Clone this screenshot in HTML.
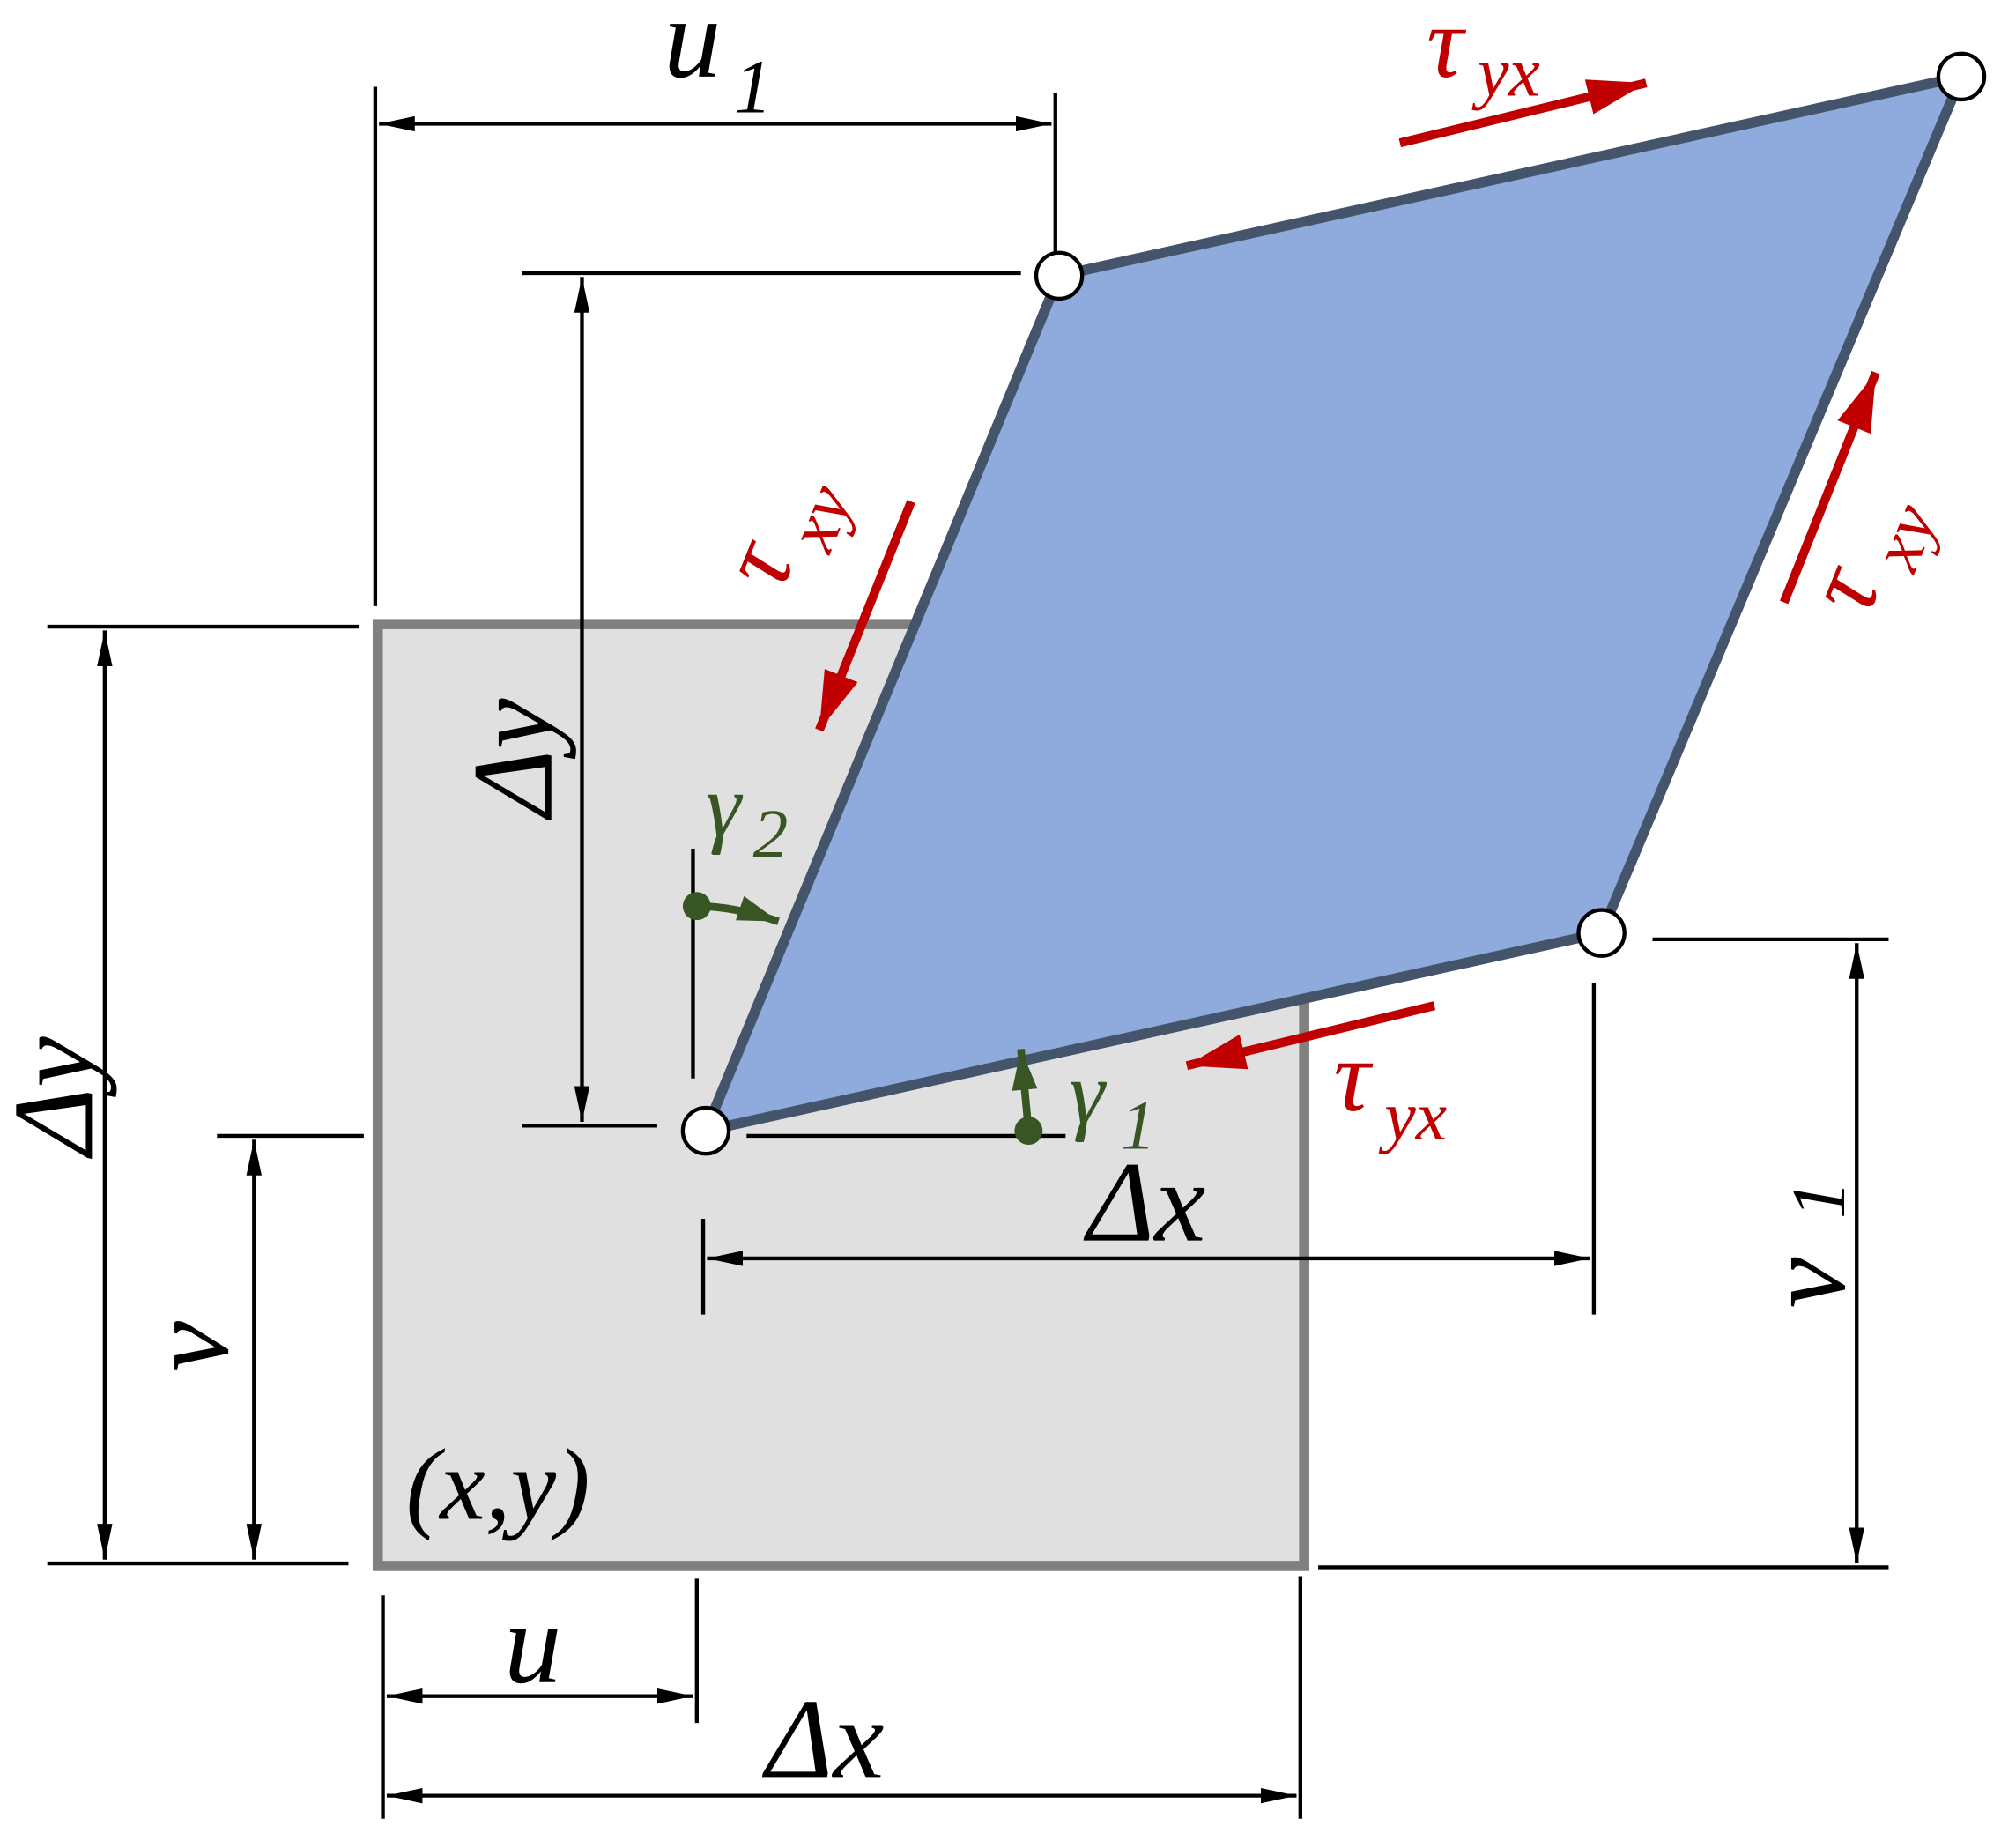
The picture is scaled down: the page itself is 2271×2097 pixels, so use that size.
<!DOCTYPE html>
<html><head><meta charset="utf-8"><style>html,body{margin:0;padding:0;background:#fff}svg{display:block}</style></head>
<body>
<svg width="2271" height="2097" viewBox="0 0 1568 1448" xmlns="http://www.w3.org/2000/svg" font-family="Liberation Serif, serif" font-style="italic">
<defs>
<marker id="a" viewBox="0 0 10 10" preserveAspectRatio="none" refX="10" refY="5" markerWidth="28" markerHeight="12" orient="auto-start-reverse" markerUnits="userSpaceOnUse"><path d="M0,0L10,5L0,10z" fill="#000"/></marker>
<marker id="r" viewBox="0 0 10 10" preserveAspectRatio="none" refX="10" refY="5" markerWidth="46" markerHeight="28" orient="auto" markerUnits="userSpaceOnUse"><path d="M0,0L10,5L0,10z" fill="#c00000"/></marker>
<marker id="g" viewBox="0 0 10 10" preserveAspectRatio="none" refX="10" refY="5" markerWidth="32" markerHeight="20" orient="auto" markerUnits="userSpaceOnUse"><path d="M0,0L10,5L0,10z" fill="#375623"/></marker>
</defs>
<rect x="296" y="489" width="726" height="738" fill="#e0e0e0" stroke="#808080" stroke-width="8"/>
<polygon points="553,886 830,216 1537,60 1255,731" fill="#8faadc" stroke="#44546a" stroke-width="8" stroke-linejoin="round"/>
<g stroke="#000" stroke-width="3" fill="none">
<line x1="294" y1="68" x2="294" y2="475"/><line x1="827" y1="73" x2="827" y2="200"/>
<line x1="297" y1="97" x2="824" y2="97" marker-start="url(#a)" marker-end="url(#a)"/>
<line x1="409" y1="214" x2="800" y2="214"/><line x1="409" y1="882" x2="515" y2="882"/>
<line x1="456" y1="217" x2="456" y2="879" marker-start="url(#a)" marker-end="url(#a)"/>
<line x1="37" y1="491" x2="281" y2="491"/><line x1="37" y1="1225" x2="273" y2="1225"/>
<line x1="82" y1="494" x2="82" y2="1222" marker-start="url(#a)" marker-end="url(#a)"/>
<line x1="170" y1="890" x2="285" y2="890"/>
<line x1="199" y1="893" x2="199" y2="1222" marker-start="url(#a)" marker-end="url(#a)"/>
<line x1="300" y1="1250" x2="300" y2="1425"/><line x1="546" y1="1237" x2="546" y2="1350"/>
<line x1="303" y1="1329" x2="543" y2="1329" marker-start="url(#a)" marker-end="url(#a)"/>
<line x1="1019" y1="1235" x2="1019" y2="1425"/>
<line x1="303" y1="1407" x2="1016" y2="1407" marker-start="url(#a)" marker-end="url(#a)"/>
<line x1="551" y1="955" x2="551" y2="1030"/><line x1="1249" y1="770" x2="1249" y2="1030"/>
<line x1="554" y1="986" x2="1246" y2="986" marker-start="url(#a)" marker-end="url(#a)"/>
<line x1="1295" y1="736" x2="1480" y2="736"/><line x1="1033" y1="1228" x2="1480" y2="1228"/>
<line x1="1455" y1="739" x2="1455" y2="1225" marker-start="url(#a)" marker-end="url(#a)"/>
<line x1="543" y1="665" x2="543" y2="845"/><line x1="585" y1="890" x2="835" y2="890"/>
</g>
<g stroke="#c00000" stroke-width="7">
<line x1="1097" y1="112" x2="1290" y2="65" marker-end="url(#r)"/>
<line x1="714" y1="393" x2="642" y2="572" marker-end="url(#r)"/>
<line x1="1398" y1="472" x2="1470" y2="292" marker-end="url(#r)"/>
<line x1="1124" y1="788" x2="930" y2="835" marker-end="url(#r)"/>
</g>
<g stroke="#375623" stroke-width="6" fill="none">
<path d="M546,710 Q575,710 610,722" marker-end="url(#g)"/>
<line x1="806" y1="886" x2="800" y2="822" marker-end="url(#g)"/>
</g>
<circle cx="546" cy="710" r="11" fill="#375623"/><circle cx="806" cy="886" r="11" fill="#375623"/>
<g fill="#fff" stroke="#000" stroke-width="3">
<circle cx="553" cy="886" r="18"/><circle cx="830" cy="216" r="18"/><circle cx="1537" cy="60" r="18"/><circle cx="1255" cy="731" r="18"/>
</g>
<g font-size="90" fill="#000">
<text x="520" y="60">u</text><text x="575" y="88" font-size="60">1</text>
<text transform="translate(432,640) rotate(-90)">Δy</text>
<text transform="translate(72,905) rotate(-90)">Δy</text>
<text transform="translate(178,1075) rotate(-90)">v</text>
<text transform="translate(1445,1025) rotate(-90)">v</text><text transform="translate(1445,955) rotate(-90)" font-size="60">1</text>
<text x="395" y="1318">u</text>
<text x="600" y="1393">Δx</text>
<text x="852" y="972">Δx</text>
<text x="318" y="1190" font-size="80">(x,y)</text>
</g>
<g fill="#c00000" font-size="80">
<text x="1118" y="60">τ</text><text x="1158" y="75" font-size="55">yx</text>
<text x="1045" y="870">τ</text><text x="1085" y="893" font-size="55">yx</text>
<text transform="translate(612,465) rotate(-68)">τ</text><text transform="translate(650,435) rotate(-68)" font-size="55">xy</text>
<text transform="translate(1463,485) rotate(-68)">τ</text><text transform="translate(1500,450) rotate(-68)" font-size="55">xy</text>
</g>
<g fill="#375623" font-size="70">
<text x="553" y="655">γ</text><text x="590" y="672" font-size="55">2</text>
<text x="838" y="880">γ</text><text x="878" y="900" font-size="55">1</text>
</g>
</svg>
</body></html>
